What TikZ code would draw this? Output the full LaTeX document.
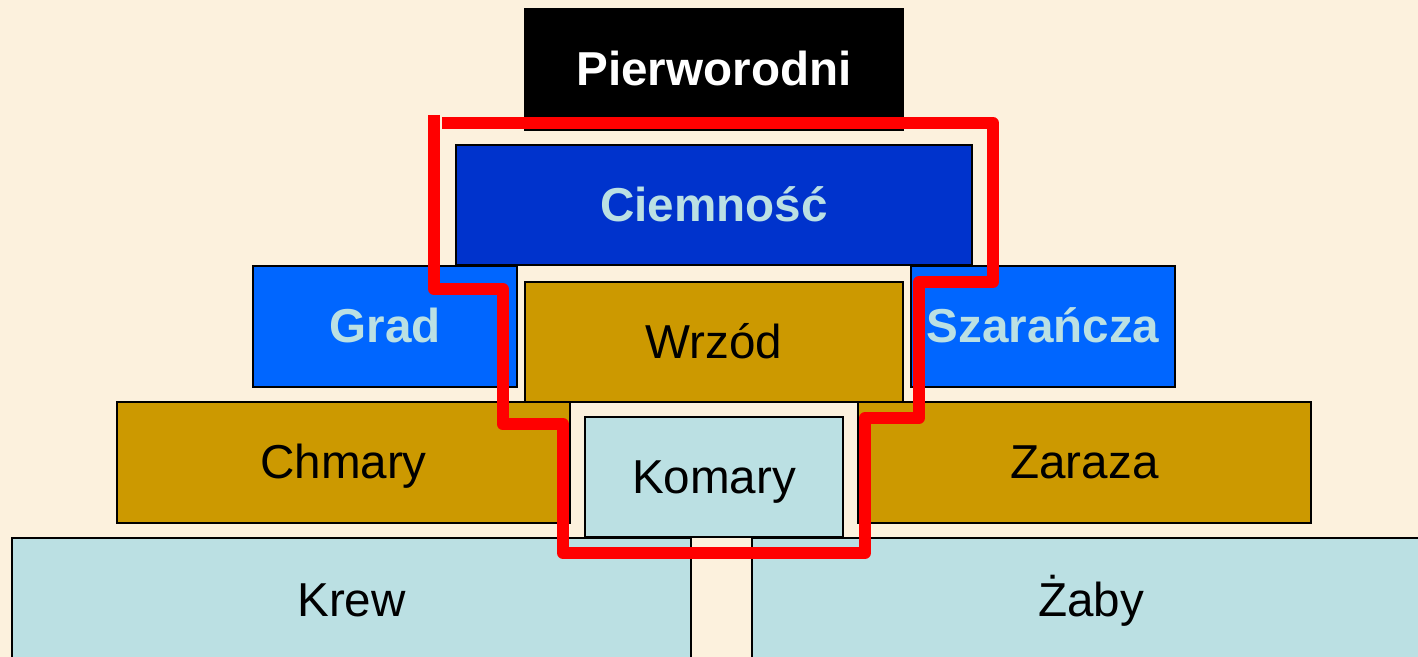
\documentclass[tikz,border=0pt]{standalone}
\usepackage{fontspec}
\setmainfont{Liberation Sans}
\definecolor{parchment}{HTML}{FCF1DD}
\definecolor{gold}{HTML}{CC9900}
\definecolor{navy}{HTML}{0033CC}
\definecolor{sky}{HTML}{0066FF}
\definecolor{pale}{HTML}{BBE0E3}
\tikzset{
	plague/.style={draw=black, line width=0.75pt, inner sep=0pt, text height=21.5pt, text depth=5.05pt, font=\fontsize{23.8}{28}\selectfont},
	goldbox/.style={plague, fill=gold},
	palebox/.style={plague, fill=pale},
	skybox/.style={plague, fill=sky, text=pale, font=\fontsize{23.8}{28}\selectfont\bfseries},
	redline/.style={line width=6pt, color=red, line join=round}
}

\begin{document}
\begin{tikzpicture}[x=0.5pt, y=-0.5pt]
		%%%%% START %%%%%
		
		\fill[parchment] (0, 0) rectangle (1418, 657);
		\clip (0, 0) rectangle (1418, 657);
		
		\node[plague, fill=black, text=white, font=\fontsize{23.8}{28}\selectfont\bfseries, minimum width=189pt, minimum height=60.5pt] (pierworodni) at (714, 69.5) {Pierworodni};
		\node[skybox, fill=navy, minimum width=258pt, minimum height=60pt] (ciemnosc) at (714, 205) {Ciemność};
		
		\node[skybox, minimum width=132pt, minimum height=60.5pt] (grad) at (385, 326.5) {Grad};
		\node[skybox, minimum width=132pt, minimum height=60.5pt] (szarancza) at (1043, 326.5) {Szarańcza};
		\node[goldbox, minimum width=189pt, minimum height=60pt] (wrzod) at (714, 342) {Wrzód};
		
		\node[goldbox, minimum width=226.5pt, minimum height=60.5pt] (chmary) at (343.5, 462.5) {Chmary};
		\node[goldbox, minimum width=226.5pt, minimum height=60.5pt] (zaraza) at (1084.5, 462.5) {Zaraza};
		\node[palebox, minimum width=129pt, minimum height=60pt] (komary) at (714, 477) {Komary};
		
		\node[palebox, minimum width=339.5pt, minimum height=62pt] (krew) at (351.5, 600) {Krew};
		\node[palebox, minimum width=339pt, minimum height=62pt] (zaby) at (1091, 600) {Żaby};
		
		\draw[redline] (434, 115) -- (434, 289) -- (502.5, 289) -- (502.5, 424) -- (563, 424) -- (563, 553) -- (865, 553) -- (865, 418) -- (919, 418) -- (919, 282) -- (993, 282) -- (993, 123) -- (442, 123);
		
		%%%%% END %%%%%
	\end{tikzpicture}
\end{document}
